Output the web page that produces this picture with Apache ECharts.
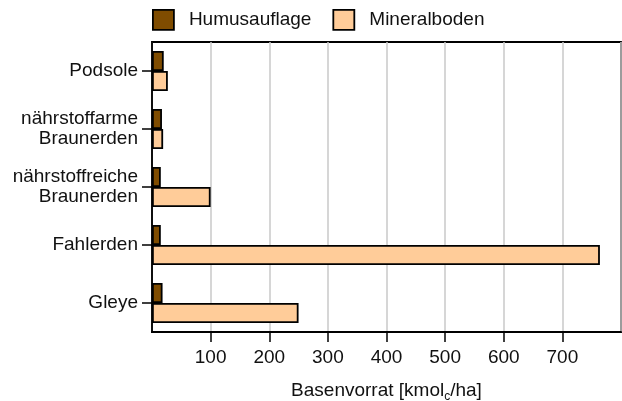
<!DOCTYPE html>
<html>
<head>
<meta charset="utf-8">
<script src="https://cdn.jsdelivr.net/npm/echarts@6/dist/echarts.min.js"></script>
<style>
  html, body { margin: 0; padding: 0; background: #fff; }
  #chart { width: 622px; height: 401px; }
</style>
</head>
<body>
<div id="chart"></div>
<script>
// soil types, top to bottom
var categories = ['Podsole', 'nährstoffarme\nBraunerden', 'nährstoffreiche\nBraunerden', 'Fahlerden', 'Gleye'];
var humusauflage = [20, 17, 15, 15, 18];
var mineralboden = [27, 19, 100, 764, 250];
var xMin = 0, xMax = 800;
var tickMin = 100, tickMax = 700, tickStep = 100;

var font = "'Liberation Sans', Arial, Helvetica, sans-serif";
var chart = echarts.init(document.getElementById('chart'));

// plot box and a second, tick-only grid covering 100..700 of the same scale
var plotLeft = 152, plotRight = 1;
var pxPerUnit = (622 - plotLeft - plotRight) / (xMax - xMin);

var option = {
	animation: false,
	textStyle: { fontFamily: font },
	legend: {
		top: 9,
		left: 152,
		padding: 0,
		icon: 'rect',
		itemWidth: 21,
		itemHeight: 20,
		itemGap: 21,
		textStyle: { fontSize: 19, lineHeight: 21, color: '#111', padding: [0, 0, 0, 10] },
		itemStyle: { borderColor: '#000', borderWidth: 1.8 },
		data: ['Humusauflage', 'Mineralboden']
	},
	grid: [
		{
			left: plotLeft,
			right: plotRight,
			top: 42,
			bottom: 69,
			outerBoundsMode: 'none',
			containLabel: false,
			show: true,
			borderColor: '#000',
			borderWidth: 1.8
		},
		{
			left: plotLeft + (tickMin - xMin) * pxPerUnit,
			right: plotRight + (xMax - tickMax) * pxPerUnit,
			top: 42,
			bottom: 69,
			outerBoundsMode: 'none',
			containLabel: false
		}
	],
	xAxis: [
		{
			type: 'value',
			gridIndex: 0,
			min: xMin,
			max: xMax,
			interval: tickStep,
			name: 'Basenvorrat [kmol{sub|c}/ha]',
			nameLocation: 'middle',
			nameGap: 47,
			nameTextStyle: {
				fontSize: 19, color: '#111', lineHeight: 24,
				rich: { sub: { fontSize: 12, lineHeight: 12, verticalAlign: 'bottom', color: '#111' } }
			},
			axisLine: { show: true, lineStyle: { color: '#000', width: 1.8 } },
			axisTick: { show: false },
			axisLabel: { show: false },
			splitLine: { show: true, lineStyle: { color: '#c8c8c8', width: 1.5 } }
		},
		{
			type: 'value',
			gridIndex: 1,
			min: tickMin,
			max: tickMax,
			interval: tickStep,
			axisLine: { show: true, lineStyle: { color: '#000', width: 1.8 } },
			axisTick: { show: true, length: 10, lineStyle: { color: '#000', width: 1.5 } },
			axisLabel: { show: true, fontSize: 19, color: '#111', margin: 16 },
			splitLine: { show: false }
		}
	],
	yAxis: [
		{
			type: 'category',
			gridIndex: 0,
			inverse: true,
			data: categories,
			axisLine: { show: true, lineStyle: { color: '#000', width: 1.8 } },
			axisTick: { show: true, alignWithLabel: true, length: 10, lineStyle: { color: '#000', width: 1.5 } },
			axisLabel: { fontSize: 19, color: '#111', margin: 14, lineHeight: 20, align: 'right' }
		},
		{
			type: 'value',
			gridIndex: 1,
			show: false
		}
	],
	series: [
		{
			name: 'Humusauflage',
			type: 'bar',
			barWidth: 20,
			barGap: '0%',
			itemStyle: { color: '#7f4c00', borderColor: '#000', borderWidth: 1.8 },
			data: humusauflage
		},
		{
			name: 'Mineralboden',
			type: 'bar',
			barWidth: 20,
			barGap: '0%',
			itemStyle: { color: '#ffcc99', borderColor: '#000', borderWidth: 1.8 },
			data: mineralboden
		}
	]
};

chart.setOption(option);
</script>
</body>
</html>
